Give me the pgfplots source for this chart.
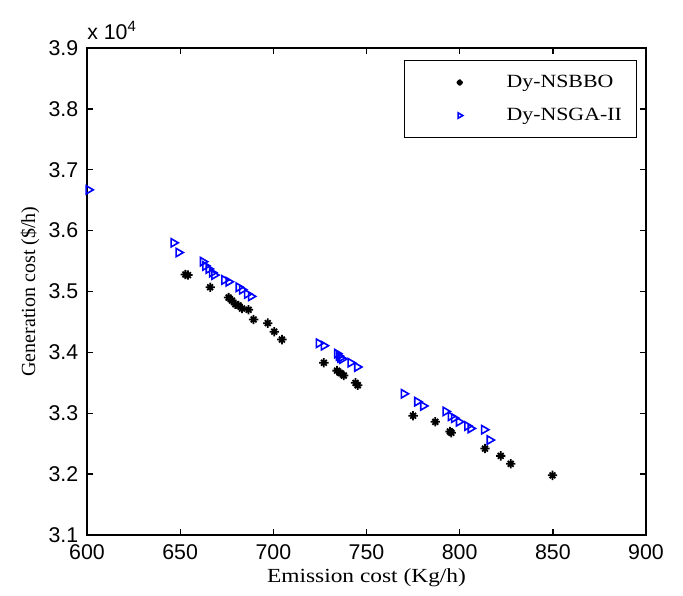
\documentclass[border=0pt]{standalone}
\usepackage{fontspec}
\setmainfont{Liberation Serif}
\newfontfamily\serifw[FakeStretch=1.17]{Liberation Serif}
\newfontfamily\sansf{Liberation Sans}
\usepackage{pgfplots}
\pgfplotsset{compat=1.18}
\pgfdeclareplotmark{star8}{%
  \pgfpathmoveto{\pgfpoint{-\pgfplotmarksize}{0pt}}\pgfpathlineto{\pgfpoint{\pgfplotmarksize}{0pt}}%
  \pgfpathmoveto{\pgfpoint{0pt}{-\pgfplotmarksize}}\pgfpathlineto{\pgfpoint{0pt}{\pgfplotmarksize}}%
  \pgfpathmoveto{\pgfpoint{-0.62\pgfplotmarksize}{-0.62\pgfplotmarksize}}\pgfpathlineto{\pgfpoint{0.62\pgfplotmarksize}{0.62\pgfplotmarksize}}%
  \pgfpathmoveto{\pgfpoint{-0.62\pgfplotmarksize}{0.62\pgfplotmarksize}}\pgfpathlineto{\pgfpoint{0.62\pgfplotmarksize}{-0.62\pgfplotmarksize}}%
  \pgfusepathqstroke}
\begin{document}
\begin{tikzpicture}
\begin{axis}[name=ax, scale only axis, width=419.25pt, height=365.25pt,
  xmin=600, xmax=900, ymin=3.1, ymax=3.9,
  xtick={600,650,...,900}, ytick={3.1,3.2,...,3.9},
  scaled y ticks=false,
  xticklabel={\sansf\fontsize{16}{18}\selectfont\pgfmathprintnumber[assume math mode=true]{\tick}},
  yticklabel={\sansf\fontsize{16}{18}\selectfont\pgfmathprintnumber[assume math mode=true,fixed,fixed zerofill,precision=1]{\tick}},
  xticklabel style={yshift=-4pt},
  yticklabel style={xshift=-3pt},
  tick align=inside, major tick length=4.5pt,
  axis line style={line width=1.3pt},
  every tick/.style={line width=1pt, black},
  xlabel={\serifw Emission cost (Kg/h)},
  ylabel={Generation cost (\$/h)},
  label style={font=\fontsize{15}{17}\selectfont},
  xlabel style={at={(rel axis cs:0.5,-0.0884)}, anchor=center},
  ylabel style={at={(rel axis cs:-0.102,0.5)}, anchor=center},
  legend style={at={(rel axis cs:0.984,0.975)}, anchor=north east, draw=black, line width=0.8pt,
    font=\serifw\fontsize{14}{16}\selectfont, inner xsep=11pt, inner ysep=4pt, row sep=0pt,
    nodes={inner sep=0pt, minimum height=24.75pt}},
  legend cell align=left,
  legend image code/.code={\draw[#1, mark size=2.3pt] plot coordinates {(0pt,0pt)}; \path (-29.5pt,0pt) (34.5pt,0pt);},
]
\addplot[only marks, mark=star8, mark size=3.5pt, line width=1.35pt, black] coordinates {
(652.8,3.528)(654.2,3.527)(666.1,3.507)(676.0,3.490)(677.8,3.485)(679.6,3.479)(681.3,3.477)(683.2,3.472)(686.7,3.470)(689.4,3.454)(697.0,3.448)(700.5,3.434)(704.6,3.421)(727.1,3.383)(734.2,3.370)(736.0,3.366)(737.8,3.362)(744.1,3.350)(745.3,3.346)(775.0,3.296)(786.9,3.286)(794.8,3.270)(795.5,3.268)(813.6,3.242)(822.0,3.230)(827.4,3.217)(849.8,3.198)
};
\addlegendentry{Dy-NSBBO}
\addplot[only marks, mark=triangle, mark size=3.6pt, line width=1.2pt, blue, mark options={rotate=-90}] coordinates {
(600.8,3.667)(646.4,3.580)(649.1,3.564)(662.2,3.549)(663.5,3.542)(665.3,3.537)(667.1,3.531)(668.3,3.527)(673.7,3.519)(676.0,3.516)(681.4,3.507)(683.2,3.503)(685.9,3.496)(688.0,3.492)(724.4,3.415)(727.1,3.411)(734.2,3.398)(735.1,3.394)(736.0,3.391)(736.9,3.389)(741.4,3.383)(745.0,3.376)(770.0,3.332)(777.2,3.319)(780.4,3.312)(792.4,3.303)(795.2,3.295)(797.0,3.292)(799.6,3.286)(804.1,3.279)(805.9,3.275)(813.1,3.273)(816.1,3.256)
};
\addlegendentry{Dy-NSGA-II}
\end{axis}
\node[anchor=south west, inner sep=0pt, font=\sansf\fontsize{16}{18}\selectfont] at ([yshift=6pt]ax.north west) {x 10\textsuperscript{4}};
\pgfresetboundingbox
\path ([shift={(-65.25pt,-45pt)}]ax.south west) rectangle ([shift={(27.75pt,36pt)}]ax.north east);
\end{tikzpicture}
\end{document}
